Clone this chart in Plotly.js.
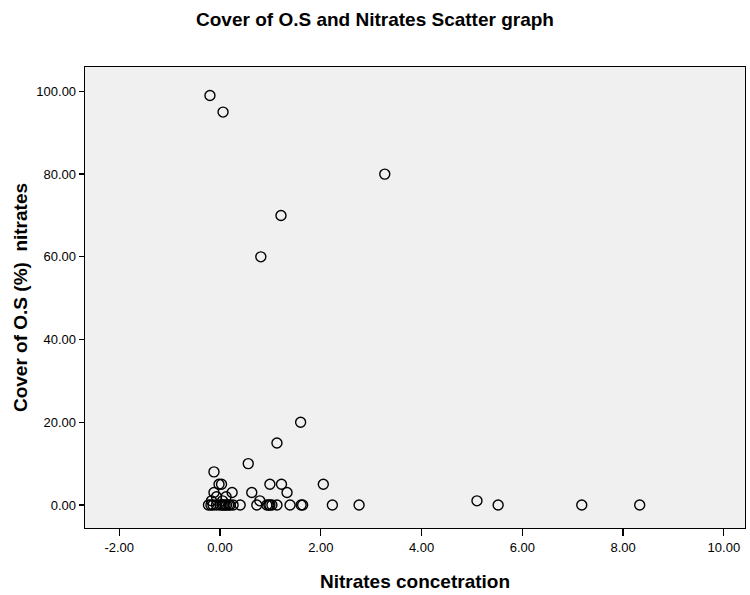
<!DOCTYPE html>
<html>
<head>
<meta charset="utf-8">
<script src="https://cdn.plot.ly/plotly-3.0.1.min.js"></script>
<style>html,body{margin:0;padding:0;background:#fff;}#chart{width:750px;height:595px;}</style>
</head>
<body>
<div id="chart"></div>
<script>
const nitrates = [-0.20, 0.06, 3.27, 1.21, 0.81, 1.60, 1.13, 0.56, -0.12,
  -0.02, 0.03, 0.99, 1.22, 2.05,
  -0.12, 0.24, 0.63, 1.33,
  -0.07, 0.12, -0.17, 0.05, 0.79, 5.10,
  -0.23, -0.18, -0.14, -0.07, 0.00, 0.04, 0.07, 0.10, 0.13, 0.17, 0.20, 0.26, 0.40,
  0.73, 0.93, 0.97, 0.99, 1.03, 1.13, 1.39, 1.61, 1.64, 2.23, 2.76, 5.52, 7.18, 8.33];
const cover = [99, 95, 80, 70, 60, 20, 15, 10, 8,
  5, 5, 5, 5, 5,
  3, 3, 3, 3,
  2, 2, 1, 1, 1, 1,
  0, 0, 0, 0, 0, 0, 0, 0, 0, 0, 0, 0, 0,
  0, 0, 0, 0, 0, 0, 0, 0, 0, 0, 0, 0, 0, 0];
const xTicks = [-2, 0, 2, 4, 6, 8, 10];
const xTickText = ['-2.00', '0.00', '2.00', '4.00', '6.00', '8.00', '10.00'];
const yTicks = [0, 20, 40, 60, 80, 100];
const yTickText = ['0.00', '20.00', '40.00', '60.00', '80.00', '100.00'];

const font = "'Liberation Sans', Arial, sans-serif";
Plotly.newPlot('chart', [{
  x: nitrates, y: cover, type: 'scatter', mode: 'markers',
  marker: {symbol: 'circle-open', size: 10, color: '#000', line: {width: 1.4, color: '#000'}},
  hoverinfo: 'x+y'
}], {
  width: 750, height: 595,
  margin: {l: 85, r: 5, t: 67, b: 67},
  paper_bgcolor: '#ffffff', plot_bgcolor: '#f0f0f0',
  font: {family: font, color: '#000'},
  title: {text: '<b>Cover of O.S and Nitrates Scatter graph</b>', font: {size: 19, family: font, color: '#000'},
    x: 0.5, xanchor: 'center', y: 0.968, yanchor: 'middle'},
  showlegend: false,
  xaxis: {range: [-2.68, 10.42], tickvals: xTicks, ticktext: xTickText, ticks: 'outside', ticklen: 7, tickwidth: 1.3,
    tickcolor: '#000', showline: true, linecolor: '#000', linewidth: 1.3, mirror: true, showgrid: false, zeroline: false,
    tickfont: {size: 13, color: '#000'},
    title: {text: '<b>Nitrates concetration</b>', font: {size: 19, color: '#000'}, standoff: 20}},
  yaxis: {range: [-5.57, 105.9], tickvals: yTicks, ticktext: yTickText, ticks: 'outside', ticklen: 5, tickwidth: 1.3,
    tickcolor: '#000', showline: true, linecolor: '#000', linewidth: 1.3, mirror: true, showgrid: false, zeroline: false,
    tickfont: {size: 13, color: '#000'},
    title: {text: '<b>Cover of O.S (%)  nitrates</b>', font: {size: 19, color: '#000'}, standoff: 3}}
}, {displayModeBar: false, staticPlot: true});
</script>
</body>
</html>
